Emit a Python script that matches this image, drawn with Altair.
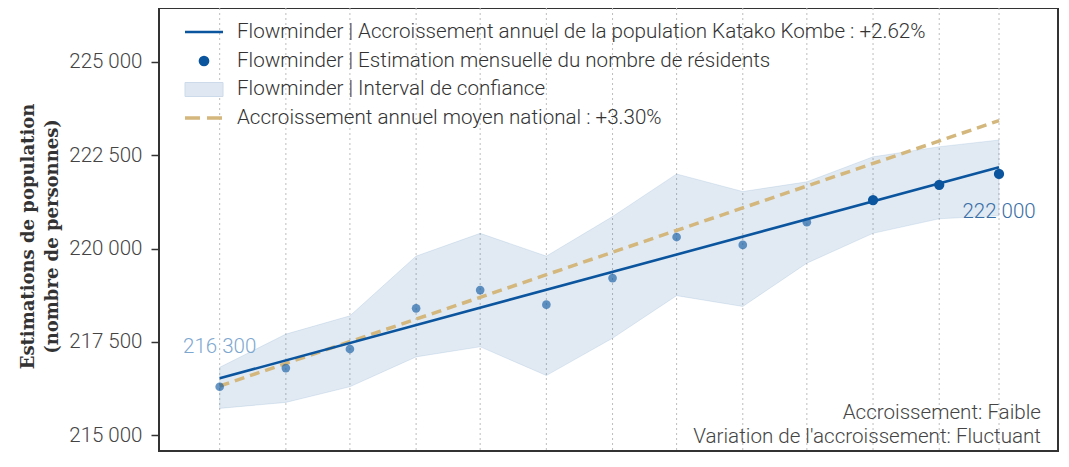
import altair as alt
import pandas as pd

# ---------------- data ----------------
months = ["2022-03-01", "2022-04-01", "2022-05-01", "2022-06-01", "2022-07-01",
          "2022-08-01", "2022-09-01", "2022-10-01", "2022-11-01", "2022-12-01",
          "2023-01-01", "2023-02-01", "2023-03-01"]
estimates = [216300, 216800, 217310, 218400, 218890, 218500, 219210,
             220310, 220100, 220710, 221300, 221710, 222000]
ci_low = [215720, 215880, 216300, 217100, 217370, 216600, 217600,
          218740, 218450, 219610, 220410, 220800, 220880]
ci_high = [216820, 217710, 218200, 219800, 220410, 219800, 220860,
           222000, 221530, 221790, 222460, 222730, 222910]
recent = [0, 0, 0, 0, 0, 0, 0, 0, 0, 0, 1, 1, 1]

trend_months = ["2022-03-01", "2023-03-01"]
trend_values = [216527, 222180]
national_values = [216320, 223430]

ann_months = ["2022-03-01", "2023-03-01"]
ann_values = [216300, 222000]
ann_texts = ["216 300", "222 000"]

LBL_TREND = "Flowminder | Accroissement annuel de la population Katako Kombe : +2.62%"
LBL_EST = "Flowminder | Estimation mensuelle du nombre de résidents"
LBL_CI = "Flowminder | Interval de confiance"
LBL_NAT = "Accroissement annuel moyen national : +3.30%"
legend_labels = [LBL_TREND, LBL_EST, LBL_CI, LBL_NAT]
BLUE = "#0b559f"
GOLD = "#d3b77c"

y_ticks = [215000, 217500, 220000, 222500, 225000]
notes = ["Accroissement: Faible", "Variation de l'accroissement: Fluctuant"]

# ---------------- tables ----------------
def ts(m):
    return m + "T00:00:00"

monthly = pd.DataFrame({
    "date": [ts(m) for m in months],
    "est": estimates, "lo": ci_low, "hi": ci_high, "recent": recent,
})
df_trend = pd.DataFrame({"date": [ts(m) for m in trend_months], "value": trend_values})
df_nat = pd.DataFrame({"date": [ts(m) for m in trend_months], "value": national_values})
df_ann = pd.DataFrame({"date": [ts(m) for m in ann_months],
                       "value": ann_values, "text": ann_texts})
one = pd.DataFrame({"t": [0]})

W, H = 899, 443
x_scale = alt.Scale(domain=[alt.DateTime(year=2022, month=1, date=31, hours=14),
                            alt.DateTime(year=2023, month=3, date=28, hours=15)])
y_scale = alt.Scale(domain=[214579, 226446], nice=False, zero=False)

y_axis = alt.Axis(
    values=y_ticks,
    labelExpr="replace(format(datum.value, ',d'), ',', ' ')",
    labelFont="Roboto", labelFontWeight=300, labelFontSize=20.5, labelColor="#444",
    labelPadding=9, tickSize=8, tickColor="#333", tickWidth=1.5,
    domain=False, grid=False,
    title=["Estimations de population", "(nombre de personnes)"],
    titleFont="DejaVu Serif", titleFontWeight="bold", titleFontSize=18,
    titleColor="#333", titleLineHeight=24, titleAngle=-90,
    titleX=-122, titleY=228, titleBaseline="bottom", titleAlign="center",
)

X = alt.X("date:T", scale=x_scale, axis=None)
def Y(field):
    return alt.Y(field, scale=y_scale, axis=y_axis)

grid = alt.Chart(monthly).mark_rule(color="#bdbdbd", strokeDash=[2, 3], strokeWidth=1).encode(x=X)

band = alt.Chart(monthly).mark_area(color=BLUE, fillOpacity=0.12, stroke=BLUE,
                                    strokeOpacity=0.1, strokeWidth=1).encode(
    x=X, y=Y("lo:Q"), y2="hi:Q")

national = alt.Chart(df_nat).mark_line(color=GOLD, strokeWidth=3.5, strokeDash=[10, 6]).encode(
    x=X, y=Y("value:Q"))

trend = alt.Chart(df_trend).mark_line(color=BLUE, strokeWidth=2.6).encode(
    x=X, y=Y("value:Q"))

points = alt.Chart(monthly).mark_circle(color=BLUE).encode(
    x=X, y=Y("est:Q"),
    opacity=alt.Opacity("recent:O", scale=alt.Scale(domain=[0, 1], range=[0.62, 1]), legend=None),
    size=alt.Size("recent:O", scale=alt.Scale(domain=[0, 1], range=[75, 105]), legend=None),
)

ann_first = alt.Chart(df_ann.iloc[[0]]).mark_text(
    font="Roboto", fontWeight=300, fontSize=20.5, color="#7ea7cf", dy=-40).encode(
    x=X, y=Y("value:Q"), text="text:N")
ann_last = alt.Chart(df_ann.iloc[[1]]).mark_text(
    font="Roboto", fontWeight=300, fontSize=20.5, color="#3a6fa6", dy=38).encode(
    x=X, y=Y("value:Q"), text="text:N")

note_text = alt.Chart(one).mark_text(
    font="Roboto", fontWeight=300, fontSize=20.6, color="#444", align="right",
    baseline="middle", lineHeight=24, text=notes).encode(
    x=alt.value(882), y=alt.value(405))

# ---------------- legend (drawn inside the plot, top-left) ----------------
leg_trend = alt.Chart(one).mark_rule(color=BLUE, strokeWidth=2.6).encode(
    x=alt.value(26), x2=alt.value(64), y=alt.value(24))
leg_pts = alt.Chart(one).mark_circle(color=BLUE, size=115, opacity=1).encode(
    x=alt.value(45), y=alt.value(53))
leg_ci = alt.Chart(one).mark_rect(fill="#dfe8f2", stroke="#ccdaea", strokeWidth=1).encode(
    x=alt.value(26), x2=alt.value(64), y=alt.value(74.5), y2=alt.value(88.5))
leg_nat = alt.Chart(one).mark_rule(color=GOLD, strokeWidth=3.5, strokeDash=[15, 7]).encode(
    x=alt.value(26), x2=alt.value(64), y=alt.value(110))
leg_text = alt.Chart(one).mark_text(
    font="Roboto", fontWeight=300, fontSize=20.6, color="#333", align="left",
    baseline="middle", lineHeight=28.7, text=legend_labels).encode(
    x=alt.value(78), y=alt.value(24))

chart = alt.layer(grid, band, national, trend, points, ann_first, ann_last, note_text,
                  leg_trend, leg_pts, leg_ci, leg_nat, leg_text).properties(
    width=W, height=H,
    autosize=alt.AutoSizeParams(type="none"),
    padding={"left": 151, "top": 0, "right": 2, "bottom": 2},
).configure(background="white").configure_view(stroke="#333", strokeWidth=2)

chart.save("out.html", embed_options={"renderer": "svg", "actions": False})
